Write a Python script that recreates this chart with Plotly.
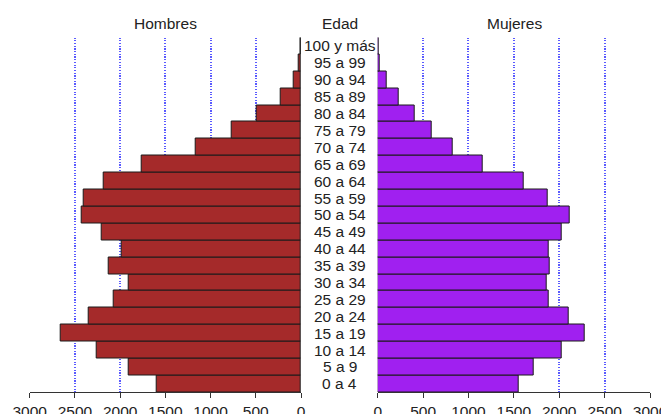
import plotly.graph_objects as go

edades = ["0 a 4", "5 a 9", "10 a 14", "15 a 19", "20 a 24", "25 a 29", "30 a 34",
          "35 a 39", "40 a 44", "45 a 49", "50 a 54", "55 a 59", "60 a 64", "65 a 69",
          "70 a 74", "75 a 79", "80 a 84", "85 a 89", "90 a 94", "95 a 99", "100 y más"]
hombres = [1600, 1902, 2256, 2654, 2348, 2075, 1909, 2127, 1979, 2204, 2429, 2400,
           2178, 1758, 1168, 767, 490, 221, 85, 25, 8]
mujeres = [1550, 1719, 2023, 2284, 2101, 1880, 1866, 1899, 1880, 2023, 2119, 1869,
           1608, 1157, 823, 599, 411, 228, 99, 18, 10]
ticks = [0, 500, 1000, 1500, 2000, 2500, 3000]

W, H = 669, 414
OFF = 8  # page body margin: figure is drawn 8px right/down in the window
FONT = "Liberation Sans, Arial, sans-serif"
TXT = "#222222"


def px(xp):
    return (xp - OFF) / W


def py(yp):
    return (H - (yp - OFF)) / H


fig = go.Figure()
fig.add_trace(go.Bar(y=list(range(len(edades))), x=hombres, orientation="h",
                     xaxis="x", yaxis="y",
                     marker=dict(color="#A52A2A", line=dict(color="#1a1a1a", width=1)),
                     showlegend=False, hoverinfo="x"))
fig.add_trace(go.Bar(y=list(range(len(edades))), x=mujeres, orientation="h",
                     xaxis="x2", yaxis="y",
                     marker=dict(color="#A020F0", line=dict(color="#1a1a1a", width=1)),
                     showlegend=False, hoverinfo="x"))

axis_common = dict(
    tickvals=ticks, ticktext=[str(t) for t in ticks],
    showgrid=True, gridcolor="#5a5aff", griddash="1.2px,1.5px", gridwidth=1.5,
    zeroline=False, showline=True, linecolor="#333333", linewidth=1,
    ticks="outside", ticklen=5, tickcolor="#333333",
    tickfont=dict(family=FONT, size=15.5, color=TXT),
    anchor="y", fixedrange=True, automargin=False,
)
fig.update_layout(
    width=W, height=H,
    margin=dict(l=0, r=0, t=0, b=0, autoexpand=False),
    paper_bgcolor="white", plot_bgcolor="white",
    bargap=0,
    xaxis=dict(domain=[px(29.7), px(301.0)], range=[3000, 0], **axis_common),
    xaxis2=dict(domain=[px(377.7), px(650.0)], range=[0, 3000], **axis_common),
    yaxis=dict(domain=[py(392.3), py(37.5)], range=[-0.5, len(edades) - 0.5],
               showticklabels=False, showgrid=False, zeroline=False,
               showline=False, ticks="", fixedrange=True, automargin=False),
)

annotations = []
for i, lab in enumerate(edades):
    annotations.append(dict(x=px(339.5), xref="paper", y=i, yref="y", text=lab,
                            showarrow=False, xanchor="center", yanchor="middle",
                            font=dict(family=FONT, size=15.5, color=TXT)))
for x, t in [(165.4, "Hombres"), (339.5, "Edad"), (514.0, "Mujeres")]:
    annotations.append(dict(x=px(x), xref="paper", y=py(23), yref="paper", text=t,
                            showarrow=False, xanchor="center", yanchor="middle",
                            font=dict(family=FONT, size=15.5, color=TXT)))
fig.update_layout(annotations=annotations)

fig.write_html("out.html")
